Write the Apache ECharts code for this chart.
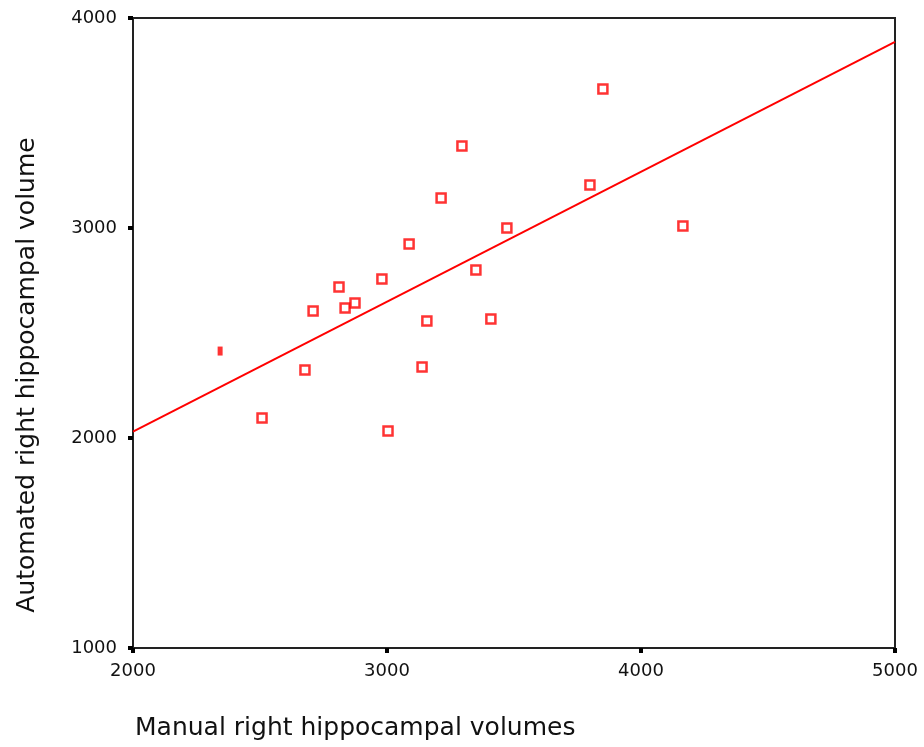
<!DOCTYPE html>
<html>
<head>
<meta charset="utf-8">
<script src="https://cdn.jsdelivr.net/npm/echarts@6/dist/echarts.min.js"></script>
<style>
  html, body { margin: 0; padding: 0; background: #fff; }
  #main { width: 924px; height: 747px; }
</style>
</head>
<body>
<div id="main"></div>
<script>
// manual (x) vs automated (y) right hippocampal volumes
var manualVol = [2343, 2508, 2677, 2709, 2811, 2835, 2874, 2980, 3004, 3087,
                 3138, 3157, 3213, 3295, 3350, 3409, 3472, 3799, 3850, 4165];
var autoVol = [2414, 2095, 2324, 2605, 2719, 2619, 2643, 2757, 2033, 2924,
               2338, 2557, 3143, 3390, 2800, 2567, 3000, 3205, 3662, 3010];

// fit line end points
var fitX = [2000, 5000];
var fitY = [2030, 3886];

var xTicks = [2000, 3000, 4000, 5000];
var yTicks = [1000, 2000, 3000, 4000];

var points = manualVol.map(function (v, i) {
  var item = { value: [v, autoVol[i]] };
  if (i === 0) {
    // this one is drawn as a thin filled mark in the original
    item.symbolSize = [5, 9];
    item.itemStyle = { color: "#ff0000", borderWidth: 0 };
  }
  return item;
});
var fitLine = fitX.map(function (v, i) {
  return [v, fitY[i]];
});

var myChart = echarts.init(document.getElementById("main"));
myChart.setOption({
  animation: false,
  grid: { left: 133, right: 29, top: 18, bottom: 99, show: true, borderColor: "#222", borderWidth: 2 },
  xAxis: {
    type: "value",
    min: xTicks[0],
    max: xTicks[xTicks.length - 1],
    interval: 1000,
    name: "Manual right hippocampal volumes",
    nameLocation: "start",
    nameGap: 0,
    nameTextStyle: {
      fontFamily: "DejaVu Sans",
      fontSize: 25,
      color: "#111",
      align: "left",
      verticalAlign: "top",
      padding: [68, 0, 0, 2],
    },
    axisLine: { show: true, lineStyle: { color: "#222", width: 2 } },
    axisTick: { show: true, length: 5, lineStyle: { color: "#000", width: 4 } },
    axisLabel: {
      fontFamily: "DejaVu Sans",
      fontSize: 18,
      color: "#111",
      margin: 14,
      formatter: function (v) { return String(v); },
    },
    splitLine: { show: false },
  },
  yAxis: {
    type: "value",
    min: yTicks[0],
    max: yTicks[yTicks.length - 1],
    interval: 1000,
    name: "Automated right hippocampal volume",
    nameLocation: "middle",
    nameGap: 93,
    nameTextStyle: {
      fontFamily: "DejaVu Sans",
      fontSize: 25,
      color: "#111",
      padding: [0, 84, 0, 0],
    },
    axisLine: { show: true, lineStyle: { color: "#222", width: 2 } },
    axisTick: { show: true, length: 5, lineStyle: { color: "#000", width: 4 } },
    axisLabel: {
      fontFamily: "DejaVu Sans",
      fontSize: 18,
      color: "#111",
      margin: 16,
      formatter: function (v) { return String(v); },
    },
    splitLine: { show: false },
  },
  series: [
    {
      type: "line",
      data: fitLine,
      symbol: "none",
      lineStyle: { color: "#ff0000", width: 2 },
      z: 2,
    },
    {
      type: "scatter",
      data: points,
      symbol: "rect",
      symbolSize: 9,
      itemStyle: { color: "#fff", borderColor: "#ff0000", borderWidth: 2.5 },
      z: 3,
    },
  ],
});
</script>
</body>
</html>
